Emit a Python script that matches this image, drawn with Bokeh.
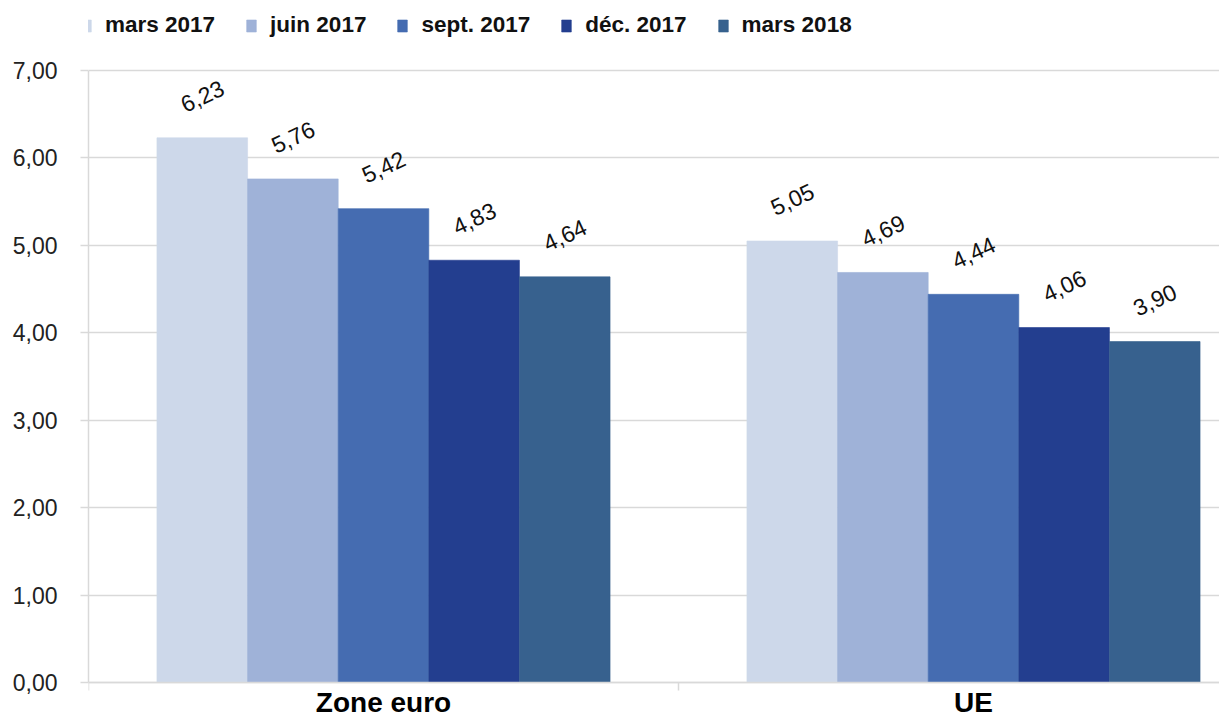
from bokeh.plotting import figure
from bokeh.models import Legend, LegendItem, FixedTicker, ColumnDataSource, Range1d
from bokeh.core.properties import value
from bokeh.embed import file_html
from bokeh.resources import INLINE
import math

# ---- data ----
groups = ["Zone euro", "UE"]
series = ["mars 2017", "juin 2017", "sept. 2017", "déc. 2017", "mars 2018"]
zone_euro = [6.23, 5.76, 5.42, 4.83, 4.64]
ue = [5.05, 4.69, 4.44, 4.06, 3.90]
colors = ["#CDD8EA", "#9FB2D8", "#456CB1", "#233E8F", "#37618E"]
y_ticks = [0, 1, 2, 3, 4, 5, 6, 7]
y_tick_labels = ["0,00", "1,00", "2,00", "3,00", "4,00", "5,00", "6,00", "7,00"]

FONT = "Liberation Sans"
W, H = 1219, 718
BL = 88
AXIS_Y = 682                # pixel row of the value 0 line
PX_PER_UNIT = 612 / 7.0     # 0..7 occupies 612 px as in the reference
bar_w = 0.1536
group_vals = [zone_euro, ue]

p = figure(width=W, height=H, output_backend="svg", toolbar_location=None,
           x_range=Range1d(0, (W - BL) / 590.0),
           y_range=Range1d(-(H - AXIS_Y) / PX_PER_UNIT, AXIS_Y / PX_PER_UNIT),
           min_border_left=BL, min_border_right=0, min_border_top=0,
           min_border_bottom=0)
p.outline_line_color = None
p.background_fill_color = "white"
p.border_fill_color = "white"

legend_items = []
for j, name in enumerate(series):
    xs = [gi + 0.5 + (j - 2) * bar_w for gi in range(len(groups))]
    ys = [group_vals[gi][j] for gi in range(len(groups))]
    src = ColumnDataSource(dict(x=xs, top=ys,
                                lbl=[f"{v:.2f}".replace(".", ",") for v in ys]))
    r = p.vbar(x="x", top="top", bottom=0, width=bar_w, source=src,
               fill_color=colors[j], line_color=colors[j], line_alpha=0.6,
               line_width=1)
    legend_items.append(LegendItem(label=name, renderers=[r]))
    p.text(x="x", y="top", text="lbl", source=src, y_offset=-42,
           angle=math.radians(25), text_align="center", text_baseline="middle",
           text_font=value(FONT), text_font_size="23px", text_color="#111111")

# axes
p.xgrid.grid_line_color = None
p.ygrid.grid_line_color = "#D9D9D9"
p.ygrid.grid_line_width = 1.5

p.yaxis.ticker = FixedTicker(ticks=y_ticks)
p.yaxis.bounds = (y_ticks[0], y_ticks[-1])
p.yaxis.major_label_overrides = {t: l for t, l in zip(y_ticks, y_tick_labels)}
p.yaxis.axis_line_color = "#D9D9D9"
p.yaxis.axis_line_width = 1.5
p.yaxis.major_tick_line_color = "#D9D9D9"
p.yaxis.major_tick_line_width = 1.5
p.yaxis.major_tick_out = 8
p.yaxis.major_tick_in = 0
p.yaxis.minor_tick_line_color = None
p.yaxis.major_label_standoff = 23
p.yaxis.major_label_text_font = FONT
p.yaxis.major_label_text_font_size = "23px"
p.yaxis.major_label_text_color = "#222222"

p.xaxis.fixed_location = 0
p.xaxis.ticker = FixedTicker(ticks=[0.5, 1.5], minor_ticks=[0, 1, 2])
p.xaxis.major_label_overrides = {0.5: groups[0], 1.5: groups[1]}
p.xaxis.axis_line_color = "#D9D9D9"
p.xaxis.axis_line_width = 1.5
p.xaxis.major_tick_line_color = None
p.xaxis.major_tick_out = 0
p.xaxis.major_tick_in = 0
p.xaxis.minor_tick_line_color = "#D9D9D9"
p.xaxis.minor_tick_line_width = 1.5
p.xaxis.minor_tick_out = 8
p.xaxis.minor_tick_in = 0
p.xaxis.major_label_standoff = -4
p.xaxis.major_label_text_font = FONT
p.xaxis.major_label_text_font_size = "28px"
p.xaxis.major_label_text_font_style = "bold"
p.xaxis.major_label_text_color = "#000000"

legend = Legend(items=legend_items, orientation="horizontal",
                location=(-8, H - 38),
                label_text_font=FONT, label_text_font_size="22.5px",
                label_text_font_style="bold", label_text_color="#111111",
                glyph_width=12, glyph_height=15, label_standoff=13, spacing=30,
                padding=0, margin=0, border_line_color=None,
                background_fill_alpha=0)
p.add_layout(legend)

open("out.html", "w").write(file_html(p, INLINE))
